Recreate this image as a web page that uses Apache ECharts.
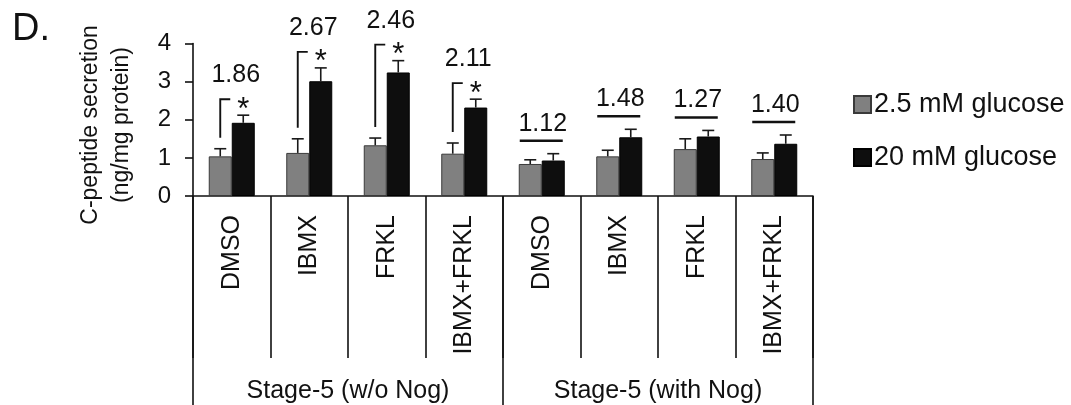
<!DOCTYPE html>
<html><head><meta charset="utf-8">
<script src="https://cdn.jsdelivr.net/npm/echarts@6/dist/echarts.min.js"></script>
<style>html,body{margin:0;padding:0;background:#fff}#c{width:1071px;height:405px}</style>
</head><body><div id="c"></div>
<script>
// ---- data ----
const categories = ['DMSO', 'IBMX', 'FRKL', 'IBMX+FRKL', 'DMSO', 'IBMX', 'FRKL', 'IBMX+FRKL'];
const stages = ['Stage-5 (w/o Nog)', 'Stage-5 (with Nog)'];
const yTicks = [0, 1, 2, 3, 4];
const lowGlucose = [1.04, 1.13, 1.33, 1.11, 0.84, 1.04, 1.23, 0.97];
const lowGlucoseSem = [0.20, 0.37, 0.19, 0.28, 0.11, 0.16, 0.27, 0.16];
const highGlucose = [1.92, 3.01, 3.24, 2.32, 0.93, 1.54, 1.56, 1.37];
const highGlucoseSem = [0.20, 0.35, 0.31, 0.22, 0.18, 0.21, 0.16, 0.23];
const foldChange = ['1.86', '2.67', '2.46', '2.11', '1.12', '1.48', '1.27', '1.40'];
const significant = [true, true, true, true, false, false, false, false];
const seriesNames = ['2.5 mM glucose', '20 mM glucose'];
const yTitle = ['C-peptide secretion', '(ng/mg protein)'];

// ---- styling ----
const FONT = "'Liberation Sans', Arial, sans-serif";
const INK = '#111';
const BAR_W = 23;

function errorRender(offset) {
  return function (params, api) {
    const i = api.value(0), m = api.value(1), s = api.value(2);
    const p0 = api.coord([i, m]);
    const p1 = api.coord([i, m + s]);
    const x = p0[0] + offset;
    const st = { stroke: '#1a1a1a', lineWidth: 1.6 };
    return {
      type: 'group',
      children: [
        { type: 'line', shape: { x1: x, y1: p0[1], x2: x, y2: p1[1] }, style: st },
        { type: 'line', shape: { x1: x - 6, y1: p1[1], x2: x + 6, y2: p1[1] }, style: st }
      ]
    };
  };
}

function annotRender(params, api) {
  const idx = params.dataIndex;
  const i = api.value(0);
  const lowTop = api.value(1), highTop = api.value(2);
  const c = api.coord([i, 0])[0];
  const yLow = api.coord([i, lowTop])[1];
  const yHigh = api.coord([i, highTop])[1];
  const gx = c - BAR_W / 2, bx = c + BAR_W / 2;
  const txt = { fontFamily: FONT, fontSize: 25, fill: INK, align: 'center', verticalAlign: 'middle' };
  const children = [];
  if (significant[idx]) {
    const top = yHigh - 16;
    children.push({ type: 'polyline', shape: { points: [[gx, yLow - 11], [gx, top], [gx + 10, top]] },
      style: { stroke: INK, lineWidth: 1.9, fill: null } });
    children.push({ type: 'text', style: Object.assign({}, txt, { text: '*', x: bx, y: top + 11, fontSize: 31 }) });
    children.push({ type: 'text', style: Object.assign({}, txt, { text: foldChange[idx], x: c + 4, y: top - 24 }) });
  } else {
    const uy = Math.min(yLow, yHigh) - 13;
    children.push({ type: 'line', shape: { x1: c - 22, y1: uy, x2: c + 21, y2: uy },
      style: { stroke: INK, lineWidth: 2.6 } });
    children.push({ type: 'text', style: Object.assign({}, txt, { text: foldChange[idx], x: c + 1, y: uy - 17 }) });
  }
  return { type: 'group', children };
}

const chart = echarts.init(document.getElementById('c'), null, { renderer: 'canvas' });
chart.setOption({
  animation: false,
  backgroundColor: '#fff',
  textStyle: { fontFamily: FONT },
  graphic: [
    { type: 'text', left: 12, top: 11, style: { text: 'D.', fontFamily: FONT, fontSize: 38, fill: INK } },
    { type: 'text', x: 91, y: 125, rotation: Math.PI / 2,
      style: { text: yTitle[0], fontFamily: FONT, fontSize: 23, fill: INK, align: 'center', verticalAlign: 'middle' } },
    { type: 'text', x: 122, y: 125, rotation: Math.PI / 2,
      style: { text: yTitle[1], fontFamily: FONT, fontSize: 23, fill: INK, align: 'center', verticalAlign: 'middle' } }
  ],
  legend: {
    data: seriesNames,
    orient: 'vertical',
    left: 848,
    top: 86,
    itemWidth: 17,
    itemHeight: 17,
    itemGap: 26,
    icon: 'rect',
    textStyle: { fontFamily: FONT, fontSize: 27, color: INK, padding: [0, 0, 0, -2] }
  },
  grid: { left: 193, right: 258, top: 43.5, bottom: 209 },
  xAxis: [
    {
      type: 'category',
      data: categories,
      position: 'bottom',
      axisLine: { lineStyle: { color: INK, width: 1.6 } },
      axisTick: { show: true, length: 162, lineStyle: { color: INK, width: 1.6 } },
      axisLabel: { interval: 0, rotate: 90, margin: 19, fontFamily: FONT, fontSize: 25, color: INK }
    },
    {
      type: 'category',
      data: stages,
      position: 'bottom',
      axisLine: { show: false },
      axisTick: { show: true, length: 212, lineStyle: { color: INK, width: 1.6 } },
      axisLabel: { interval: 0, margin: 183, fontFamily: FONT, fontSize: 25, color: INK }
    }
  ],
  yAxis: {
    type: 'value',
    min: yTicks[0],
    max: yTicks[yTicks.length - 1],
    interval: 1,
    axisLine: { show: true, lineStyle: { color: INK, width: 1.6 } },
    axisTick: { show: true, length: 8, lineStyle: { color: INK, width: 1.6 } },
    axisLabel: { margin: 22, fontFamily: FONT, fontSize: 24, color: INK },
    splitLine: { show: false }
  },
  series: [
    {
      name: seriesNames[0], type: 'bar', data: lowGlucose, barWidth: BAR_W, barGap: '0%',
      itemStyle: { color: '#808080', borderColor: '#3a3a3a', borderWidth: 1 }
    },
    {
      name: seriesNames[1], type: 'bar', data: highGlucose, barWidth: BAR_W, barGap: '0%',
      itemStyle: { color: '#0e0e0e', borderColor: '#000', borderWidth: 1 }
    },
    {
      type: 'custom', renderItem: errorRender(-BAR_W / 2), z: 5,
      data: lowGlucose.map((v, i) => [i, v, lowGlucoseSem[i]])
    },
    {
      type: 'custom', renderItem: errorRender(BAR_W / 2), z: 5,
      data: highGlucose.map((v, i) => [i, v, highGlucoseSem[i]])
    },
    {
      type: 'custom', renderItem: annotRender, z: 6,
      data: categories.map((c, i) => [i, lowGlucose[i] + lowGlucoseSem[i], highGlucose[i] + highGlucoseSem[i]])
    }
  ]
});
</script></body></html>
